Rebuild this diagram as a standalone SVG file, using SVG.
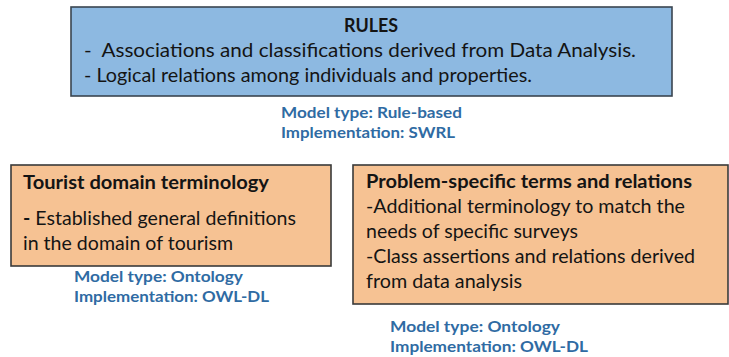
<svg xmlns="http://www.w3.org/2000/svg" width="729" height="357" viewBox="0 0 729 357">
  <style>
    .box-blue { fill: #8db9e1; stroke: #3a4550; stroke-width: 1.6; }
    .box-orange { fill: #f6c293; stroke: #3a3a3a; stroke-width: 1.6; }
    .t { font-family: Lato, "Liberation Sans", sans-serif; font-size: 19px; fill: #141414; }
    .b { font-weight: bold; }
    .meta { font-family: Lato, "Liberation Sans", sans-serif; font-size: 15px; font-weight: bold; fill: #2f6ba3; }
  </style>
  <rect width="729" height="357" fill="#ffffff"/>

  <g id="connectors"></g>

  <!-- Rules layer -->
  <g id="rules">
    <rect class="box-blue" x="71" y="7" width="601" height="89"/>
    <text class="t b" x="371" y="32" text-anchor="middle" textLength="54" lengthAdjust="spacingAndGlyphs">RULES</text>
    <text class="t" x="84" y="57" textLength="552" lengthAdjust="spacingAndGlyphs" xml:space="preserve">-  Associations and classifications derived from Data Analysis.</text>
    <text class="t" x="84" y="82" textLength="448" lengthAdjust="spacingAndGlyphs">- Logical relations among individuals and properties.</text>
  </g>
  <g id="rules-meta">
    <text class="meta" x="281" y="118" textLength="181" lengthAdjust="spacingAndGlyphs">Model type: Rule-based</text>
    <text class="meta" x="281" y="138" textLength="174" lengthAdjust="spacingAndGlyphs">Implementation: SWRL</text>
  </g>

  <!-- Domain terminology -->
  <g id="tourist-domain">
    <rect class="box-orange" x="11" y="165" width="320" height="101"/>
    <text class="t b" x="23" y="189" textLength="246" lengthAdjust="spacingAndGlyphs">Tourist domain terminology</text>
    <text class="t" x="23" y="225" textLength="273" lengthAdjust="spacingAndGlyphs"><tspan font-weight="bold">-</tspan> Established general definitions</text>
    <text class="t" x="23" y="250" textLength="210" lengthAdjust="spacingAndGlyphs">in the domain of tourism</text>
  </g>
  <g id="tourist-domain-meta">
    <text class="meta" x="74" y="282" textLength="169" lengthAdjust="spacingAndGlyphs">Model type: Ontology</text>
    <text class="meta" x="74" y="302" textLength="195" lengthAdjust="spacingAndGlyphs">Implementation: OWL-DL</text>
  </g>

  <!-- Problem-specific terms -->
  <g id="problem-specific">
    <rect class="box-orange" x="353" y="165" width="375" height="139"/>
    <text class="t b" x="366" y="188" textLength="326" lengthAdjust="spacingAndGlyphs">Problem-specific terms and relations</text>
    <text class="t" x="366" y="213" textLength="319" lengthAdjust="spacingAndGlyphs">-Additional terminology to match the</text>
    <text class="t" x="366" y="238" textLength="212" lengthAdjust="spacingAndGlyphs">needs of specific surveys</text>
    <text class="t" x="366" y="263" textLength="329" lengthAdjust="spacingAndGlyphs">-Class assertions and relations derived</text>
    <text class="t" x="366" y="288" textLength="156" lengthAdjust="spacingAndGlyphs">from data analysis</text>
  </g>
  <g id="problem-specific-meta">
    <text class="meta" x="390" y="332" textLength="170" lengthAdjust="spacingAndGlyphs">Model type: Ontology</text>
    <text class="meta" x="390" y="352" textLength="198" lengthAdjust="spacingAndGlyphs">Implementation: OWL-DL</text>
  </g>
</svg>
